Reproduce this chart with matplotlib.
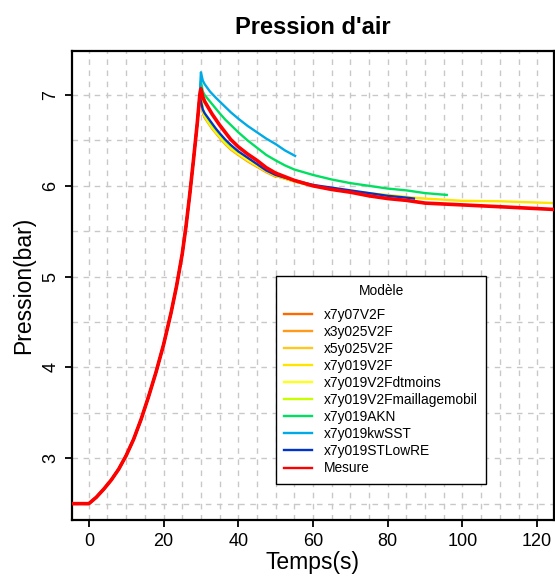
import matplotlib
matplotlib.use("Agg")
import matplotlib.pyplot as plt
import numpy as np

plt.rcParams['font.family'] = ['Liberation Sans', 'DejaVu Sans']

# Shared pressurisation phase (time s, pressure bar)
t_rise = [-4.5, 0, 2, 4, 6, 8, 10, 12, 14, 16, 18, 20, 22, 23.5, 25, 26, 27, 28, 29, 29.7]
p_rise = [2.5, 2.5, 2.57, 2.66, 2.76, 2.88, 3.03, 3.21, 3.43, 3.68, 3.95, 4.25, 4.6, 4.9, 5.25,
          5.55, 5.9, 6.28, 6.68, 7.0]

series_names = ["x7y07V2F", "x3y025V2F", "x5y025V2F", "x7y019V2F", "x7y019V2Fdtmoins",
                "x7y019V2Fmaillagemobil", "x7y019AKN", "x7y019kwSST", "x7y019STLowRE", "Mesure"]
series_colors = ["#FF6A00", "#FF9A1A", "#FFC81E", "#FFE400", "#FFFF1A",
                 "#C8FF00", "#00E060", "#00AAE6", "#0033CC", "#FF0000"]

# Depressurisation phase for each series
t_x7y07V2F = [30, 30.5, 31, 32, 33, 34, 35, 36.5, 38, 40, 42.5, 45, 47.5, 50, 55, 60]
p_x7y07V2F = [6.97, 6.82, 6.76, 6.70, 6.64, 6.59, 6.54, 6.47, 6.41, 6.35, 6.28, 6.22, 6.16, 6.11, 6.05, 6.00]
t_x3y025V2F = [30, 30.5, 31, 32, 33, 34, 35, 36.5, 38, 40, 42.5, 45, 47.5, 50]
p_x3y025V2F = [6.96, 6.81, 6.75, 6.69, 6.63, 6.58, 6.53, 6.46, 6.40, 6.34, 6.27, 6.21, 6.15, 6.10]
t_x5y025V2F = [30, 30.5, 31, 32, 33, 34, 35, 36.5, 38, 40, 42.5, 45, 47.5, 50, 55, 60, 65, 70]
p_x5y025V2F = [6.97, 6.82, 6.76, 6.70, 6.64, 6.59, 6.54, 6.47, 6.41, 6.35, 6.28, 6.22, 6.16, 6.11, 6.05, 6.00, 5.97, 5.94]
t_x7y019V2F = [30, 30.5, 31, 32, 33, 34, 35, 36.5, 38, 40, 42.5, 45, 47.5, 50, 55, 60, 65, 70,
               80, 87, 90, 100, 110, 124.5]
p_x7y019V2F = [6.98, 6.83, 6.77, 6.70, 6.64, 6.59, 6.54, 6.47, 6.41, 6.35, 6.28, 6.22, 6.16, 6.11, 6.05, 6.00, 5.97, 5.94,
               5.90, 5.87, 5.86, 5.835, 5.83, 5.81]
t_x7y019V2Fdtmoins = [30, 30.5, 31, 32, 33, 34, 35, 36.5, 38, 40, 42.5, 45]
p_x7y019V2Fdtmoins = [6.98, 6.84, 6.78, 6.71, 6.65, 6.60, 6.55, 6.48, 6.42, 6.36, 6.29, 6.23]
t_x7y019V2Fmaillagemobil = [30, 30.5, 31, 32, 33, 34, 35, 36.5, 38, 40]
p_x7y019V2Fmaillagemobil = [6.99, 6.85, 6.79, 6.72, 6.66, 6.61, 6.56, 6.49, 6.43, 6.37]
t_x7y019AKN = [30, 30.5, 31, 32.4, 34, 35, 36.5, 38, 40, 42.5, 45, 47.5, 50, 52.5, 55, 60, 65, 70,
               75, 80, 85, 90, 95.8]
p_x7y019AKN = [7.15, 7.04, 7.0, 6.93, 6.85, 6.80, 6.73, 6.67, 6.59, 6.50, 6.42, 6.34, 6.28, 6.225, 6.18, 6.12, 6.07, 6.03,
               6.00, 5.97, 5.95, 5.92, 5.90]
t_x7y019kwSST = [30, 30.5, 31, 32.4, 34, 35, 36.5, 38, 40, 42.5, 45, 47.5, 50, 52.5, 55.2]
p_x7y019kwSST = [7.25, 7.16, 7.12, 7.04, 6.97, 6.93, 6.87, 6.81, 6.74, 6.66, 6.59, 6.52, 6.46, 6.39, 6.33]
t_x7y019STLowRE = [30, 30.5, 31, 32.4, 34, 35, 36.5, 38, 40, 42.5, 45, 47.5, 50, 55, 60, 65, 70,
                   75, 80, 85, 87]
p_x7y019STLowRE = [6.93, 6.84, 6.80, 6.72, 6.63, 6.58, 6.51, 6.45, 6.38, 6.31, 6.24, 6.17, 6.12, 6.06, 6.01, 5.98, 5.95,
                   5.92, 5.89, 5.87, 5.86]
t_Mesure = [30, 30.5, 31, 32, 33, 34, 35, 36.5, 38, 40, 42.5, 45, 47.5, 50, 52.5, 55, 60, 65, 70,
            75, 80, 85, 90, 100, 110, 124.5]
p_Mesure = [7.07, 6.98, 6.93, 6.86, 6.79, 6.73, 6.67, 6.59, 6.51, 6.43, 6.35, 6.28, 6.20, 6.14, 6.10, 6.06, 6.00, 5.96, 5.93,
            5.89, 5.86, 5.84, 5.81, 5.79, 5.77, 5.74]

decay_t = [t_x7y07V2F, t_x3y025V2F, t_x5y025V2F, t_x7y019V2F, t_x7y019V2Fdtmoins,
           t_x7y019V2Fmaillagemobil, t_x7y019AKN, t_x7y019kwSST, t_x7y019STLowRE, t_Mesure]
decay_p = [p_x7y07V2F, p_x3y025V2F, p_x5y025V2F, p_x7y019V2F, p_x7y019V2Fdtmoins,
           p_x7y019V2Fmaillagemobil, p_x7y019AKN, p_x7y019kwSST, p_x7y019STLowRE, p_Mesure]

x_ticks = [0, 20, 40, 60, 80, 100, 120]
y_ticks = [3, 4, 5, 6, 7]

fig = plt.figure(figsize=(5.55, 5.79), dpi=100)
ax = fig.add_axes([72/555, 1-520/579, (554-72)/555, (520-51)/579])

for name, col, td, pd_ in zip(series_names, series_colors, decay_t, decay_p):
    t_all = t_rise + td
    p_all = p_rise + pd_
    lw = 2.6 if name == "Mesure" else 1.7
    ax.plot(t_all, p_all, color=col, lw=lw, label=name, zorder=3 if name == "Mesure" else 2,
            solid_joinstyle='round')

ax.set_xlim(-4.5, 124.5)
ax.set_ylim(2.32, 7.485)
ax.set_xticks(x_ticks)
ax.set_yticks(y_ticks)
ax.set_xticks(np.arange(0, 125, 5), minor=True)
ax.set_yticks(np.arange(2.5, 7.5, 0.5), minor=True)
ax.grid(True, which='both', color='#C8C8C8', linestyle=(0, (4, 4)), linewidth=1.0, zorder=0)
ax.tick_params(which='minor', length=0)
ax.tick_params(which='major', direction='out', length=5, width=1.3, labelsize=13, pad=4)
for lab in ax.get_yticklabels():
    lab.set_rotation(90)
    lab.set_va('center')
for s in ax.spines.values():
    s.set_linewidth(1.6)
    s.set_color('black')

ax.set_xlabel("Temps(s)", fontsize=16.5, labelpad=1)
ax.set_ylabel("Pression(bar)", fontsize=16.5, labelpad=5)
ax.set_title("Pression d'air", fontsize=17, fontweight='bold', pad=12)

leg = ax.legend(title="Modèle", loc='upper left', bbox_to_anchor=(0.423, 0.52),
                fontsize=9.9, title_fontsize=9.9, frameon=True, fancybox=False,
                edgecolor='black', framealpha=1.0, handlelength=2.0, handletextpad=0.9,
                labelspacing=0.22, borderpad=0.6, borderaxespad=0)
leg.get_frame().set_linewidth(1.0)
leg._legend_box.sep = 7
for h in leg.get_lines():
    h.set_linewidth(1.7)

fig.savefig("out.png", dpi=100)
